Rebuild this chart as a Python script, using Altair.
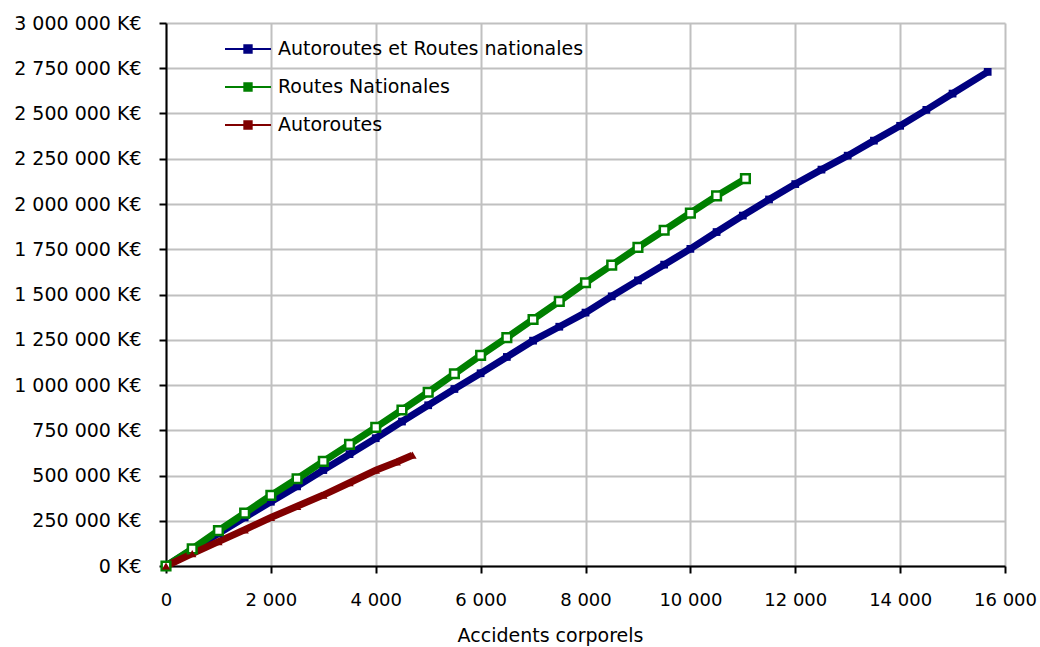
import altair as alt
import pandas as pd

series_names = ["Autoroutes et Routes nationales", "Routes Nationales", "Autoroutes"]
series_colors = ["#000080", "#008000", "#800000"]

# Autoroutes et Routes nationales
blue_x = [0, 500, 1000, 1500, 2000, 2500, 3000, 3500, 4000, 4500, 5000, 5500, 6000, 6500,
          7000, 7500, 8000, 8500, 9000, 9500, 10000, 10500, 11000, 11500, 12000, 12500,
          13000, 13500, 14000, 14500, 15000, 15670]
blue_y = [0, 90000, 180000, 268000, 355000, 440000, 530000, 618000, 706000, 798000, 888000,
          978000, 1065000, 1155000, 1245000, 1322000, 1400000, 1490000, 1578000, 1665000,
          1752000, 1845000, 1936000, 2025000, 2110000, 2190000, 2267000, 2350000, 2432000,
          2520000, 2610000, 2730000]

# Routes Nationales
green_x = [0, 500, 1000, 1500, 2000, 2500, 3000, 3500, 4000, 4500, 5000, 5500, 6000, 6500,
           7000, 7500, 8000, 8500, 9000, 9500, 10000, 10500, 11050]
green_y = [0, 95000, 195000, 292000, 390000, 482000, 578000, 672000, 766000, 862000, 960000,
           1062000, 1164000, 1262000, 1362000, 1462000, 1565000, 1662000, 1760000, 1855000,
           1950000, 2045000, 2140000]

# Autoroutes
red_x = [0, 500, 1000, 1500, 2000, 2500, 3000, 3500, 4000, 4400, 4700]
red_y = [0, 68000, 135000, 200000, 268000, 330000, 392000, 460000, 529000, 575000, 612000]

x_ticks = [0, 2000, 4000, 6000, 8000, 10000, 12000, 14000, 16000]
y_ticks = [0, 250000, 500000, 750000, 1000000, 1250000, 1500000, 1750000, 2000000,
           2250000, 2500000, 2750000, 3000000]

frames = []
for name, xs, ys in zip(series_names, [blue_x, green_x, red_x], [blue_y, green_y, red_y]):
    frames.append(pd.DataFrame({"acc": xs, "cost": ys, "serie": name}))
df = pd.concat(frames, ignore_index=True)

FONT = "DejaVu Sans"

color_scale = alt.Scale(domain=series_names, range=series_colors)

legend = alt.Legend(
    title=None,
    orient="none",
    legendX=58,
    legendY=2,
    symbolType="M-1,0H1M-0.16,-0.16H0.16V0.16H-0.16Z",
    symbolSize=2116,
    symbolStrokeWidth=2,
    symbolOpacity=1,
    labelFont=FONT,
    labelFontSize=19,
    labelColor="black",
    labelOffset=6,
    labelLimit=0,
    rowPadding=4,
)

x_enc = alt.X(
    "acc:Q",
    scale=alt.Scale(domain=[0, 16000], nice=False),
    axis=alt.Axis(
        values=x_ticks,
        labelExpr="replace(format(datum.value, ','), regexp(',', 'g'), ' ')",
        labelFlush=False,
        title="Accidents corporels",
        titleX=384,
        titlePadding=17,
        labelPadding=18,
        labelFontSize=18,
    ),
)
y_enc = alt.Y(
    "cost:Q",
    scale=alt.Scale(domain=[0, 3000000], nice=False),
    axis=alt.Axis(
        values=y_ticks,
        labelExpr="replace(format(datum.value, ','), regexp(',', 'g'), ' ') + ' K€'",
        title=None,
        labelPadding=18,
        labelFontSize=19,
    ),
)
color_enc = alt.Color("serie:N", scale=color_scale, sort=series_names, legend=legend)

base = alt.Chart(df).encode(x=x_enc, y=y_enc, color=color_enc, order="acc:Q")

line = base.mark_line(strokeWidth=7)
pts_blue = base.transform_filter(
    alt.FieldOneOfPredicate(field="serie", oneOf=[series_names[0]])
).mark_point(filled=True, shape="square", size=60, opacity=1)
pts_green = base.transform_filter(
    alt.FieldOneOfPredicate(field="serie", oneOf=[series_names[1]])
).mark_point(filled=False, shape="square", size=75, strokeWidth=2.5, fill="white",
             fillOpacity=1, opacity=1)
pts_red = base.transform_filter(
    alt.FieldOneOfPredicate(field="serie", oneOf=[series_names[2]])
).mark_point(filled=True, shape="triangle-up", size=70, opacity=1)

chart = (
    alt.layer(line, pts_blue, pts_green, pts_red)
    .properties(
        width=839,
        height=543,
        autosize=alt.AutoSizeParams(type="none"),
        padding={"left": 166, "top": 23, "right": 35, "bottom": 81},
        background="white",
    )
    .configure_view(strokeWidth=0)
    .configure_axis(
        labelFont=FONT,
        labelColor="black",
        labelLimit=0,
        titleFont=FONT,
        titleFontSize=19,
        titleFontWeight="normal",
        titleColor="black",
        domainColor="black",
        domainWidth=2,
        tickColor="black",
        tickWidth=2,
        tickSize=7,
        gridColor="#c0c0c0",
        gridWidth=2,
        gridOpacity=1,
    )
)

chart.save("out.html", embed_options={"renderer": "svg", "actions": False})
